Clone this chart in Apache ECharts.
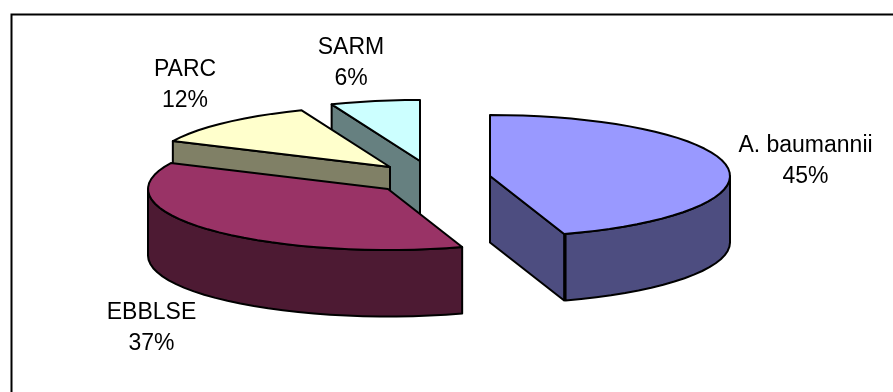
<!DOCTYPE html>
<html>
<head>
<meta charset="utf-8">
<style>html,body{margin:0;padding:0;background:#fff}#chart{width:893px;height:392px}</style>
<script src="https://cdn.jsdelivr.net/npm/echarts@6/dist/echarts.min.js"></script>
</head>
<body>
<div id="chart"></div>
<script>
// Resistance categories and their percentage shares
const categories = ['A. baumannii', 'EBBLSE', 'PARC', 'SARM'];
const shares = [45, 37, 12, 6];
const topColors = ['#9999FF', '#993366', '#FFFFCC', '#CCFFFF'];
const wallColors = ['#4D4D80', '#4D1A33', '#808066', '#668080'];

// Projected disc: wedge tips after the explode offset, ellipse radii and wall height
const tips = [[490, 176], [388, 189], [390, 167], [420, 161]];
const labelAt = [[805.5, 161.5], [151.5, 328.5], [185, 85.5], [351, 63.5]];
const RX = 240, RY = 61, DEPTH = 66.5;
// The outer wall stops just short of the cut face, which thickens the shared edge
const WALL_GAP_DEG = 0.35;
const total = shares.reduce((a, b) => a + b, 0);

// Angles run clockwise from twelve o'clock
function rim(tip, deg, dy) {
  const a = deg * Math.PI / 180;
  return [tip[0] + RX * Math.sin(a), tip[1] - RY * Math.cos(a) + (dy || 0)];
}
function arc(tip, from, to, dy) {
  const pts = [];
  const n = Math.max(2, Math.ceil((to - from) / 4));
  for (let i = 0; i <= n; i++) pts.push(rim(tip, from + (to - from) * i / n, dy));
  return pts;
}
function face(points, fill, z2) {
  return {
    type: 'polygon',
    z2,
    shape: { points },
    style: { fill, stroke: '#000', lineWidth: 2, lineJoin: 'round' }
  };
}

function renderWedge(params, api) {
  const i = params.dataIndex;
  let before = 0;
  for (let k = 0; k < i; k++) before += shares[k];
  const start = before / total * 360;
  const end = (before + api.value(0)) / total * 360;
  const tip = tips[i];
  // Later categories sit farther back, so they paint first
  const layer = (categories.length - i) * 10;
  const children = [];

  // Cut face looking toward the viewer: trailing edge for the first wedge, leading edge for the back two
  const cutDeg = i === 0 ? end : (i >= 2 ? start : null);
  if (cutDeg !== null) {
    const p = rim(tip, cutDeg);
    children.push(face([tip, p, [p[0], p[1] + DEPTH], [tip[0], tip[1] + DEPTH]], wallColors[i], layer));
  }

  // Outer wall along the near half of the ellipse
  const wallFrom = Math.max(start, 90);
  const wallTo = Math.min(end, 270) - (i === 0 ? WALL_GAP_DEG : 0);
  if (wallTo > wallFrom) {
    const upper = arc(tip, wallFrom, wallTo, 0);
    const lower = arc(tip, wallFrom, wallTo, DEPTH).reverse();
    children.push(face(upper.concat(lower), wallColors[i], layer + 1));
  }

  // Top face
  children.push(face([tip].concat(arc(tip, start, end)), topColors[i], layer + 2));

  // Two-line label: name and percentage
  children.push({
    type: 'text',
    z2: 100,
    style: {
      x: labelAt[i][0],
      y: labelAt[i][1],
      text: categories[i] + '\n' + api.value(0) + '%',
      fill: '#000',
      font: '23px "Liberation Sans", Arial, sans-serif',
      lineHeight: 31,
      align: 'center',
      verticalAlign: 'middle'
    }
  });
  return { type: 'group', children };
}

const chart = echarts.init(document.getElementById('chart'), null, { renderer: 'canvas' });
chart.setOption({
  animation: false,
  backgroundColor: '#fff',
  graphic: [{
    type: 'polyline',
    shape: { points: [[11.5, 392], [11.5, 14.5], [893, 14.5]] },
    style: { stroke: '#000', lineWidth: 2, fill: null }
  }],
  series: [{
    type: 'custom',
    coordinateSystem: 'none',
    renderItem: renderWedge,
    data: shares.map((v, i) => ({ value: [v], name: categories[i] })),
    encode: { value: 0 }
  }]
});
</script>
</body>
</html>
